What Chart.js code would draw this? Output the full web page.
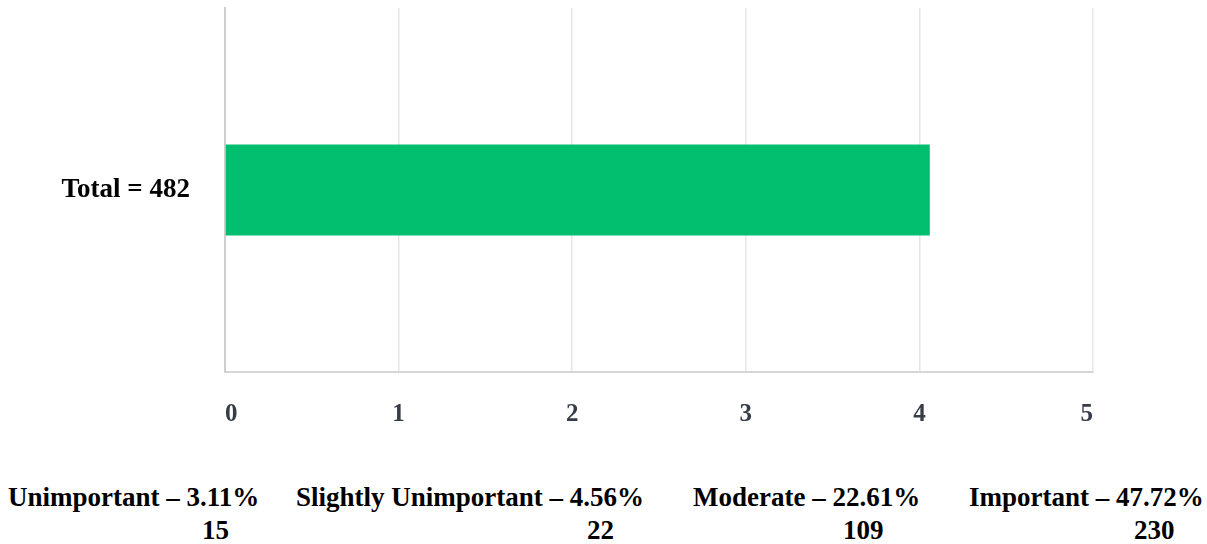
<!DOCTYPE html>
<html><head><meta charset="utf-8">
<script src="https://cdn.jsdelivr.net/npm/chart.js@4"></script>
<style>
html,body{margin:0;padding:0;background:#fff;}
#wrap{position:relative;width:1207px;height:544px;overflow:hidden;}
#cbox{position:absolute;left:0;top:0;width:1207px;height:440px;}
.lbl{position:absolute;font-family:"Liberation Serif","Times New Roman",serif;font-weight:bold;font-size:27px;color:#000;white-space:nowrap;line-height:1;}
</style></head>
<body><div id="wrap"><div id="cbox"><canvas id="c"></canvas></div><div id="notes"></div></div>
<script>
const categories = ["Total = 482"];
const values = [4.06];
const tickValues = [0, 1, 2, 3, 4, 5];
const responseNames = ["Unimportant", "Slightly Unimportant", "Moderate", "Important"];
const responsePercents = ["3.11%", "4.56%", "22.61%", "47.72%"];
const responseCounts = [15, 22, 109, 230];

// note layout (positions only)
const noteLine1X = [8, 296, 693, 969];
const noteLine2X = [202, 587, 843, 1134];
const notes = document.getElementById('notes');
responseNames.forEach((n,i)=>{
  const a=document.createElement('div');a.className='lbl';
  a.style.left=noteLine1X[i]+'px';a.style.top='484px';
  a.textContent=n+' \u2013 '+responsePercents[i];notes.appendChild(a);
  const b=document.createElement('div');b.className='lbl';
  b.style.left=noteLine2X[i]+'px';b.style.top='517px';
  b.textContent=String(responseCounts[i]);notes.appendChild(b);
});

const serif = '"Liberation Serif","Times New Roman",serif';
new Chart(document.getElementById('c'), {
  type: 'bar',
  data: { labels: categories, datasets: [{ data: values, backgroundColor: '#02bf6f', borderWidth: 0, barPercentage: 0.25, categoryPercentage: 1 }] },
  options: {
    indexAxis: 'y', responsive: true, maintainAspectRatio: false, animation: false,
    layout: { padding: { top: 8, right: 114, left: 0, bottom: 0 } },
    plugins: { legend: { display: false }, tooltip: { enabled: false } },
    scales: {
      x: {
        min: 0, max: 5,
        afterBuildTicks: s => { s.ticks = tickValues.map(v => ({ value: v })); },
        afterFit: s => { s.height = 68; },
        grid: { color: '#e6e6e6', lineWidth: 1.5, drawTicks: false },
        border: { color: '#d6d6d6', width: 2 },
        ticks: { padding: 28, align: 'inner', color: '#363d47', font: { family: serif, weight: 'bold', size: 25 } }
      },
      y: {
        afterFit: s => { s.width = 225; s.paddingTop = 0; s.paddingBottom = 0; },
        grid: { display: false, drawTicks: false },
        border: { color: '#cfcfcf', width: 2 },
        ticks: { padding: 35, color: '#000', font: { family: serif, weight: 'bold', size: 27 } }
      }
    }
  }
});
</script></body></html>
